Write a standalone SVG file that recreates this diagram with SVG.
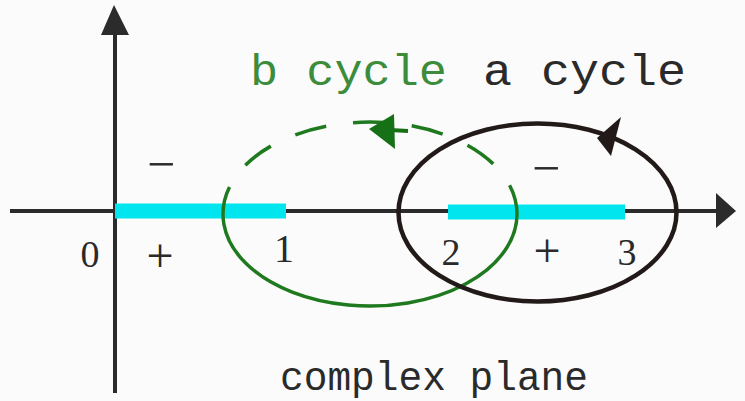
<svg xmlns="http://www.w3.org/2000/svg" width="745" height="401" viewBox="0 0 745 401">
<style>
.t{font-family:"Liberation Serif","Times New Roman",serif;fill:#2a2a2a}
.m{font-family:"Liberation Mono","Courier New",monospace;fill:#2a2a2a}
.ax{stroke:#2b2b2b;stroke-width:4;fill:none}
.cy{stroke:#00e5ee;stroke-width:15;fill:none}
.g{stroke:#1f7a1f;stroke-width:3.5;fill:none}
</style>
<rect width="745" height="401" fill="#fbfbfb"/>
<g id="axes">
<line class="ax" x1="10" y1="211" x2="720" y2="211"/>
<polygon points="716,193 736,211 716,228" fill="#2b2b2b"/>
<line class="ax" x1="115" y1="393" x2="115" y2="30"/>
<polygon points="101,35 114,5 129,35" fill="#2b2b2b"/>
</g>
<g id="cuts">
<line class="cy" x1="115" y1="211" x2="286" y2="211"/>
<line class="cy" x1="448" y1="212" x2="625" y2="212"/>
</g>
<g id="b-cycle">
<path class="g" d="M517,214 A147 92 0 1 1 229.5,187"/>
<path class="g" d="M229.5,187 A147 92 0 0 1 517,214" stroke-dasharray="32 27" stroke-dashoffset="32"/>
<polygon points="369,129 394,114 395,149" fill="#167016"/>
<line x1="390" y1="130" x2="408" y2="131" stroke="#167016" stroke-width="4"/>
</g>
<g id="a-cycle">
<ellipse cx="537.5" cy="212.5" rx="139" ry="89" fill="none" stroke="#221a18" stroke-width="4.5"/>
<polygon points="621,117 597,138 611,156" fill="#221a18"/>
</g>
<g id="labels">
<text class="m" x="250" y="85" font-size="44" textLength="197" lengthAdjust="spacingAndGlyphs" style="fill:#3c8c3c">b cycle</text>
<text class="m" x="483" y="85" font-size="44" textLength="203" lengthAdjust="spacingAndGlyphs">a cycle</text>
<text class="m" x="280" y="390" font-size="40" textLength="308" lengthAdjust="spacingAndGlyphs">complex plane</text>
<text class="t" x="161" y="181" font-size="50" text-anchor="middle">−</text>
<text class="t" x="546" y="185" font-size="50" text-anchor="middle">−</text>
<text class="t" x="160" y="272" font-size="48" text-anchor="middle">+</text>
<text class="t" x="547" y="267" font-size="48" text-anchor="middle">+</text>
<text class="t" x="90" y="267" font-size="38" text-anchor="middle">0</text>
<text class="t" x="284" y="262" font-size="40" text-anchor="middle">1</text>
<text class="t" x="451" y="265" font-size="38" text-anchor="middle">2</text>
<text class="t" x="627" y="265" font-size="38" text-anchor="middle">3</text>
</g>
</svg>
